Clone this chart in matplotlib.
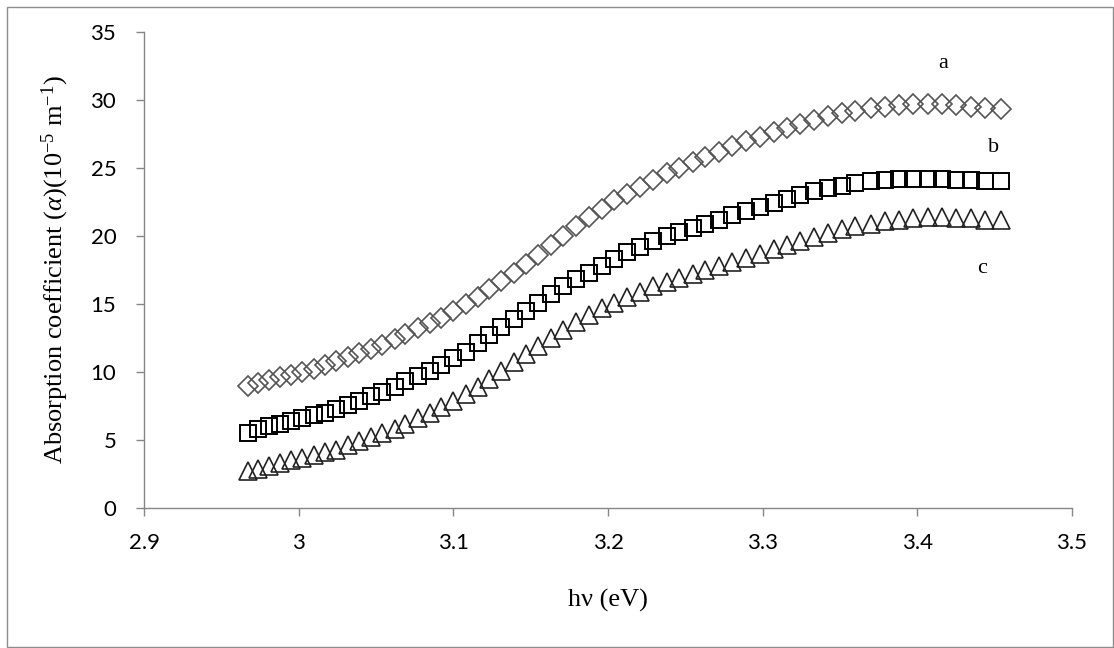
import matplotlib.pyplot as plt
from matplotlib.patches import Rectangle

plt.rcParams['mathtext.fontset'] = 'custom'
plt.rcParams['mathtext.rm'] = 'Liberation Serif'
plt.rcParams['mathtext.it'] = 'Liberation Serif:italic'

# photon energy (eV)
hv = [2.967, 2.974, 2.981, 2.988, 2.995, 3.002, 3.010, 3.017, 3.024, 3.032,
      3.039, 3.047, 3.054, 3.062, 3.069, 3.077, 3.085, 3.092, 3.100, 3.108,
      3.116, 3.123, 3.131, 3.139, 3.147, 3.155, 3.163, 3.171, 3.179, 3.188,
      3.196, 3.204, 3.212, 3.221, 3.229, 3.238, 3.246, 3.255, 3.263, 3.272,
      3.280, 3.289, 3.298, 3.307, 3.316, 3.324, 3.333, 3.342, 3.351, 3.360,
      3.370, 3.379, 3.388, 3.397, 3.407, 3.416, 3.425, 3.435, 3.444, 3.454]

alpha_a = [9.0, 9.2, 9.4, 9.6, 9.8, 10.0, 10.2, 10.5, 10.8, 11.1,
           11.4, 11.7, 12.0, 12.4, 12.8, 13.2, 13.6, 14.0, 14.5, 15.0,
           15.5, 16.1, 16.7, 17.3, 17.9, 18.6, 19.3, 20.0, 20.7, 21.4,
           22.0, 22.6, 23.1, 23.6, 24.1, 24.6, 25.0, 25.4, 25.8, 26.2,
           26.6, 27.0, 27.3, 27.6, 27.9, 28.2, 28.5, 28.8, 29.0, 29.2,
           29.4, 29.5, 29.6, 29.7, 29.7, 29.7, 29.6, 29.5, 29.4, 29.3]

alpha_b = [5.5, 5.8, 6.0, 6.2, 6.4, 6.6, 6.8, 7.0, 7.3, 7.6,
           7.9, 8.2, 8.5, 8.9, 9.3, 9.7, 10.1, 10.5, 11.0, 11.5,
           12.1, 12.7, 13.3, 13.9, 14.5, 15.1, 15.7, 16.3, 16.8, 17.3,
           17.8, 18.3, 18.8, 19.2, 19.6, 20.0, 20.3, 20.6, 20.9, 21.2,
           21.5, 21.8, 22.1, 22.4, 22.7, 23.0, 23.3, 23.5, 23.7, 23.9,
           24.0, 24.1, 24.2, 24.2, 24.2, 24.2, 24.1, 24.1, 24.0, 24.0]

alpha_c = [2.7, 2.9, 3.1, 3.3, 3.5, 3.7, 3.9, 4.1, 4.3, 4.6,
           4.9, 5.2, 5.5, 5.8, 6.2, 6.6, 7.0, 7.4, 7.9, 8.4,
           8.9, 9.5, 10.1, 10.7, 11.3, 11.9, 12.5, 13.1, 13.7, 14.2,
           14.7, 15.1, 15.5, 15.9, 16.3, 16.6, 16.9, 17.2, 17.5, 17.8,
           18.1, 18.4, 18.7, 19.0, 19.3, 19.6, 19.9, 20.2, 20.5, 20.7,
           20.9, 21.1, 21.2, 21.3, 21.4, 21.4, 21.3, 21.3, 21.2, 21.2]

curve_labels = ['a', 'b', 'c']
label_pos = [(3.4165, 32.7), (3.449, 26.5), (3.442, 17.6)]

fig = plt.figure(figsize=(11.14, 6.48), dpi=100)
ax = fig.add_axes([0.1293, 0.216, 0.8330, 0.735])

ax.plot(hv, alpha_a, linestyle='none', marker='D', markersize=10.5,
        markerfacecolor='none', markeredgecolor='#555555', markeredgewidth=1.2)
ax.plot(hv, alpha_b, linestyle='none', marker='s', markersize=12,
        markerfacecolor='none', markeredgecolor='black', markeredgewidth=1.4)
ax.plot(hv, alpha_c, linestyle='none', marker='^', markersize=12.5,
        markerfacecolor='none', markeredgecolor='#222222', markeredgewidth=1.2)

for lab, (x, y) in zip(curve_labels, label_pos):
    ax.text(x, y, lab, fontsize=16, family='Liberation Serif',
            ha='center', va='center')

ax.set_xlim(2.9, 3.5)
ax.set_ylim(0, 35)
ax.set_xticks([2.9, 3.0, 3.1, 3.2, 3.3, 3.4, 3.5])
ax.set_xticklabels(['2.9', '3', '3.1', '3.2', '3.3', '3.4', '3.5'])
ax.set_yticks([0, 5, 10, 15, 20, 25, 30, 35])

for s in ['top', 'right']:
    ax.spines[s].set_visible(False)
for s in ['left', 'bottom']:
    ax.spines[s].set_color('#868686')
    ax.spines[s].set_linewidth(1.0)

ax.tick_params(axis='both', colors='#868686', labelcolor='black',
               labelsize=16, direction='out', length=6, width=1.0)
ax.tick_params(axis='x', pad=12)
ax.tick_params(axis='y', pad=14)
for t in ax.get_xticklabels() + ax.get_yticklabels():
    t.set_family('Lato')

ax.set_xlabel('hν (eV)', fontsize=19, family='Liberation Serif', labelpad=26)
ax.set_ylabel(r'Absorption coefficient ($\mathit{\alpha}$)(10$^{-5}$ m$^{-1}$)',
              fontsize=19, family='Liberation Serif', labelpad=14)

fig.patches.append(Rectangle((0.0063, 0.0015), 0.9927, 0.9875,
                             transform=fig.transFigure, fill=False,
                             edgecolor='#8c8c8c', linewidth=1.0))

fig.savefig('out.png', dpi=100)
